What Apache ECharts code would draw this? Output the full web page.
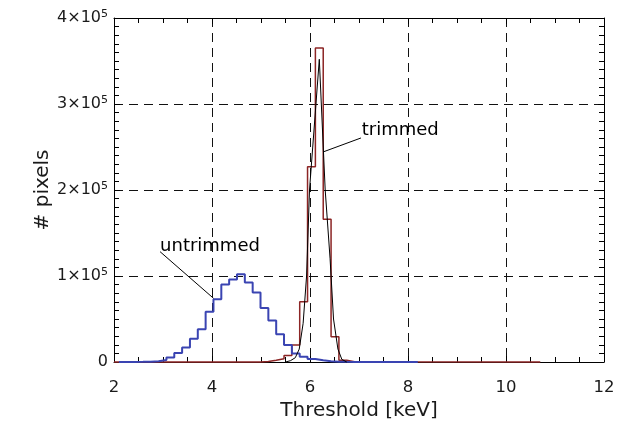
<!DOCTYPE html>
<html>
<head>
<meta charset="utf-8">
<script src="https://cdn.jsdelivr.net/npm/echarts@6/dist/echarts.min.js"></script>
<style>
  html, body { margin: 0; padding: 0; background: #fff; }
  #main { width: 620px; height: 422px; }
</style>
</head>
<body>
<div id="main"></div>
<script>
// bin edges of the histograms (keV)
var binEdges = [2.27, 2.43, 2.59, 2.75, 2.91, 3.07, 3.23, 3.39, 3.55, 3.71, 3.87, 4.03, 4.19, 4.35, 4.51,
  4.67, 4.83, 4.99, 5.15, 5.31, 5.47, 5.63, 5.79, 5.95, 6.11, 6.27, 6.43, 6.59, 6.75, 6.91];
// untrimmed counts per bin (blue)
var untrimmed = [100, 200, 400, 900, 2300, 5200, 10500, 17000, 27000, 38000, 58500, 72900, 90000, 96000, 102000,
  92400, 80800, 62700, 48200, 32400, 19800, 10000, 6000, 3500, 2000, 1000, 400, 200, 100];
// trimmed counts per bin (red)
var trimmed = [0, 0, 0, 0, 0, 0, 0, 0, 0, 0, 0, 0, 0, 0, 0,
  0, 0, 500, 2000, 3800, 7500, 19800, 70000, 227000, 365000, 166000, 29400, 2000, 300];
// zero level extent of each histogram
var untrimmedRange = [2.1, 8.2];
var trimmedRange = [2.0, 10.7];
// smooth curve over the trimmed peak (black)
var curveX = [5.50, 5.60, 5.70, 5.78, 5.86, 5.93, 5.99, 6.19, 6.31, 6.41, 6.48, 6.57, 6.65, 6.75];
var curveY = [0, 1500, 5000, 15000, 45000, 100000, 200000, 352000, 200000, 120000, 50000, 15000, 3000, 0];
// annotation texts and their leader lines
var labelText = ['untrimmed', 'trimmed'];
var labelAt = [[2.94, 124400], [7.055, 259300]];
var untrimmedLeader = [[2.94, 128300], [4.03, 74100]];
var trimmedLeader = [[7.04, 260500], [6.265, 244200]];

var FONT = 'DejaVu Sans';
var INK = '#1a1a1a';

// step outline: point i holds the level of the bin starting at x_i
function stepData(counts, range) {
  var d = [[range[0], 0]];
  for (var i = 0; i < counts.length; i++) {
    d.push([binEdges[i], counts[i]]);
  }
  d.push([binEdges[binEdges.length - 1], 0]);
  d.push([range[1], 0]);
  return d;
}

var curve = [];
for (var i = 0; i < curveX.length; i++) {
  curve.push([curveX[i], curveY[i]]);
}

var tickStyle = { show: true, inside: true, length: 6, lineStyle: { color: '#000', width: 1 } };
var minorStyle = { show: true, length: 5, lineStyle: { color: '#000', width: 1 } };
var lineAxis = { show: true, onZero: false, lineStyle: { color: '#000', width: 1 } };
var dashed = { show: true, lineStyle: { color: '#111', width: 1, type: [9, 6] } };

var chart = echarts.init(document.getElementById('main'));
var option = {
  backgroundColor: '#fff',
  animation: false,
  grid: { left: 114, right: 16, top: 18, bottom: 60, containLabel: false, outerBoundsMode: 'none' },
  xAxis: [{
    type: 'value', min: 2, max: 12, interval: 2,
    name: 'Threshold [keV]', nameLocation: 'middle', nameGap: 34,
    nameTextStyle: { fontFamily: FONT, fontSize: 20, color: INK },
    axisLine: lineAxis, axisTick: tickStyle,
    minorTick: Object.assign({ splitNumber: 4 }, minorStyle),
    splitLine: dashed,
    axisLabel: { fontFamily: FONT, fontSize: 16.5, color: INK, margin: 17 }
  }, {
    type: 'value', min: 2, max: 12, interval: 2, position: 'top',
    axisLine: lineAxis, axisTick: tickStyle,
    minorTick: Object.assign({ splitNumber: 4 }, minorStyle),
    splitLine: { show: false }, axisLabel: { show: false }
  }],
  yAxis: [{
    type: 'value', min: 0, max: 400000, interval: 100000,
    name: '# pixels', nameLocation: 'middle', nameGap: 61, nameMoveOverlap: false,
    nameTextStyle: { fontFamily: FONT, fontSize: 20, color: INK },
    axisLine: lineAxis, axisTick: tickStyle,
    minorTick: Object.assign({ splitNumber: 10 }, minorStyle),
    splitLine: dashed,
    axisLabel: {
      fontFamily: FONT, fontSize: 16, color: INK, margin: 6,
      formatter: function (v) {
        if (v === 0) return '0';
        return (v / 100000) + '×10{sup|5}';
      },
      rich: {
        sup: { fontFamily: FONT, fontSize: 11, color: INK, verticalAlign: 'top', padding: [0, 0, 8, 0] }
      }
    }
  }, {
    type: 'value', min: 0, max: 400000, interval: 100000, position: 'right',
    axisLine: lineAxis, axisTick: tickStyle,
    minorTick: Object.assign({ splitNumber: 10 }, minorStyle),
    splitLine: { show: false }, axisLabel: { show: false }
  }],
  series: [
    {
      name: 'trimmed', type: 'line', step: 'end', symbol: 'none', clip: false,
      data: stepData(trimmed, trimmedRange),
      lineStyle: { color: '#8c2525', width: 1.5 }
    },
    {
      name: 'untrimmed', type: 'line', step: 'end', symbol: 'none', clip: false,
      data: stepData(untrimmed, untrimmedRange),
      lineStyle: { color: '#3a44b2', width: 2 }
    },
    {
      name: 'curve', type: 'line', symbol: 'none', clip: false,
      data: curve,
      lineStyle: { color: '#000', width: 1 }
    },
    {
      name: 'leader1', type: 'line', symbol: 'none', clip: false,
      data: untrimmedLeader, lineStyle: { color: '#000', width: 1 }
    },
    {
      name: 'leader2', type: 'line', symbol: 'none', clip: false,
      data: trimmedLeader, lineStyle: { color: '#000', width: 1 }
    },
    {
      name: 'labels', type: 'scatter', symbolSize: 0, silent: true,
      itemStyle: { opacity: 1 },
      data: labelAt.map(function (p, k) { return { value: p, name: labelText[k] }; }),
      label: {
        show: true, position: [0, 0], align: 'left', verticalAlign: 'bottom',
        formatter: '{b}', fontFamily: FONT, fontSize: 18, color: '#000', opacity: 1
      }
    }
  ]
};
chart.setOption(option);
</script>
</body>
</html>
